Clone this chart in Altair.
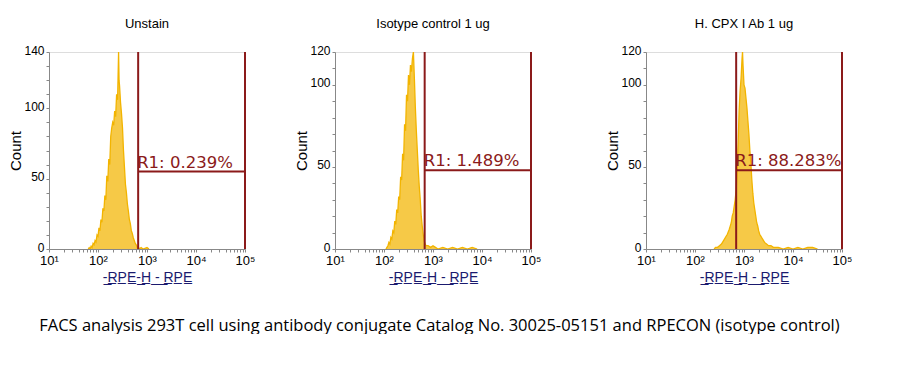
import altair as alt
import pandas as pd

# ---------------- data ----------------
panel_titles = ["Unstain", "Isotype control 1 ug", "H. CPX I Ab 1 ug"]

# histogram 1 : log10(RPE-H) positions and counts
exp1 = [1.80, 1.82, 1.84, 1.86, 1.88, 1.90, 1.92, 1.94, 1.96, 1.98, 2.00, 2.02, 2.04, 2.06,
        2.08, 2.10, 2.12, 2.14, 2.16, 2.18, 2.20, 2.22, 2.24, 2.26, 2.28, 2.30, 2.32, 2.34,
        2.36, 2.38, 2.40, 2.42, 2.43, 2.44, 2.46, 2.48, 2.50, 2.52, 2.54, 2.56, 2.58, 2.60,
        2.62, 2.64, 2.66, 2.68, 2.70, 2.72, 2.74, 2.76, 2.78, 2.80, 2.82, 2.84, 2.88, 2.92,
        3.00, 3.04]
cnt1 = [0, 1, 0, 2, 1, 4, 3, 6, 5, 10, 9, 15, 13, 21,
        19, 29, 27, 38, 35, 52, 48, 64, 60, 80, 86, 90, 88, 98,
        94, 110, 106, 140, 120, 116, 104, 96, 86, 70, 58, 46, 40, 32,
        27, 21, 18, 13, 11, 8, 6, 4, 3, 1, 2, 0, 1, 0,
        1, 0]

exp2 = [2.04, 2.06, 2.08, 2.10, 2.12, 2.14, 2.16, 2.18, 2.20, 2.22, 2.24, 2.26, 2.28, 2.30,
        2.32, 2.34, 2.36, 2.38, 2.40, 2.42, 2.44, 2.46, 2.48, 2.50, 2.52, 2.54, 2.56, 2.58,
        2.60, 2.62, 2.64, 2.66, 2.68, 2.70, 2.72, 2.74, 2.76, 2.78, 2.80, 2.82, 2.84, 2.86,
        2.90, 2.95, 3.00, 3.05, 3.10, 3.20, 3.30, 3.40, 3.50, 3.60, 3.70, 3.80, 3.90]
cnt2 = [0, 1, 2, 4, 3, 7, 6, 11, 10, 17, 15, 24, 22, 32,
        30, 44, 42, 58, 54, 76, 72, 94, 90, 106, 100, 112, 108, 116,
        120, 104, 86, 72, 60, 48, 38, 30, 20, 14, 9, 5, 3, 2,
        2, 1, 2, 1, 0, 1, 0, 1, 0, 1, 0, 1, 0]

exp3 = [2.39, 2.42, 2.46, 2.50, 2.54, 2.58, 2.62, 2.66, 2.70, 2.72, 2.74, 2.76, 2.78, 2.80,
        2.82, 2.84, 2.86, 2.88, 2.90, 2.92, 2.94, 2.96, 2.97, 2.98, 3.00, 3.02, 3.04, 3.06,
        3.08, 3.10, 3.12, 3.14, 3.16, 3.18, 3.20, 3.22, 3.24, 3.26, 3.28, 3.30, 3.32, 3.34,
        3.36, 3.38, 3.42, 3.46, 3.50, 3.55, 3.60, 3.70, 3.80, 3.90, 4.00, 4.10, 4.20, 4.30,
        4.40, 4.50]
cnt3 = [0, 1, 1, 2, 3, 5, 7, 9, 12, 14, 16, 20, 22, 26,
        30, 36, 48, 64, 84, 96, 104, 116, 120, 112, 100, 98, 92, 86,
        78, 70, 60, 52, 42, 34, 28, 24, 20, 16, 14, 11, 9, 8,
        7, 6, 4, 3, 2, 2, 1, 1, 0, 1, 0, 1, 0, 1,
        1, 0]

y_max = [140, 120, 120]
gate_left = [660, 676, 692]
gate_right = [100000, 100000, 100000]
gate_y = [55, 48, 48]
gate_labels = ["R1: 0.239%", "R1: 1.489%", "R1: 88.283%"]

x_major = [10, 100, 1000, 10000, 100000]
x_minor = [20, 30, 40, 50, 60, 70, 80, 90,
           200, 300, 400, 500, 600, 700, 800, 900,
           2000, 3000, 4000, 5000, 6000, 7000, 8000, 9000,
           20000, 30000, 40000, 50000, 60000, 70000, 80000, 90000]
y_ticks_140 = [0, 10, 20, 30, 40, 50, 60, 70, 80, 90, 100, 110, 120, 130, 140]
y_ticks_120 = [0, 10, 20, 30, 40, 50, 60, 70, 80, 90, 100, 110, 120]

caption = ("FACS analysis 293T cell using antibody conjugate Catalog No. 30025-05151 "
           "and RPECON (isotype control)")
x_title = "".join(c + "\u0332" for c in "-RPE-H - RPE")

GATE = "#8B1A1A"
HIST = "#F2B400"
AX = "#A0A0A0"

majors_js = "[10,100,1000,10000,100000]"
x_label_expr = (f"indexof({majors_js}, datum.value) >= 0 ? "
                f"'10' + ['\u00b9','\u00b2','\u00b3','\u2074','\u2075'][indexof({majors_js}, datum.value)] : ''")


def panel(i, exps, cnts, yticks):
    ymax = y_max[i]
    hist = pd.DataFrame({"v": [10 ** e for e in exps], "count": cnts})
    xscale = alt.Scale(type="log", domain=[10, 100000])
    yscale = alt.Scale(domain=[0, ymax], nice=False)
    xaxis = alt.Axis(values=x_major + x_minor, labelExpr=x_label_expr, labelFlush=False,
                     labelOverlap=False, grid=False, title=x_title, titleColor="#1a1a6e",
                     titleFontSize=14, titleFontWeight="normal", titlePadding=3,
                     tickSize=3, labelFontSize=13, labelPadding=2)
    yaxis = alt.Axis(values=yticks, grid=False, title="Count", titleFontSize=15,
                     titleFontWeight="normal", titlePadding=0, labelOverlap=False,
                     labelFlush=False, labelBaseline="alphabetic", labelOffset=2,
                     labelExpr=f"(datum.value % 50 == 0 || datum.value == {ymax}) ? '' + datum.value : ''",
                     tickSize=3, labelFontSize=12, labelPadding=2)

    def X(field):
        return alt.X(field, scale=xscale, axis=xaxis)

    def Y(field):
        return alt.Y(field, scale=yscale, axis=yaxis)

    base = alt.Chart(hist)
    area = base.mark_area(color=HIST, opacity=0.72, clip=True).encode(
        x=X("v:Q"), y=Y("count:Q"))
    line = base.mark_line(color=HIST, strokeWidth=1.3, clip=True).encode(
        x=X("v:Q"), y=Y("count:Q"))

    vdf = pd.DataFrame({"v": [gate_left[i], gate_right[i]], "count": [0, 0], "y1": [ymax, ymax]})
    vlines = alt.Chart(vdf).mark_rule(color=GATE, strokeWidth=2).encode(
        x=X("v:Q"), y=Y("count:Q"), y2="y1:Q")
    hdf = pd.DataFrame({"v": [gate_left[i]], "x1": [gate_right[i]], "count": [gate_y[i]],
                        "t": [gate_labels[i]]})
    hline = alt.Chart(hdf).mark_rule(color=GATE, strokeWidth=2).encode(
        x=X("v:Q"), x2="x1:Q", y=Y("count:Q"))
    label = alt.Chart(hdf).mark_text(color=GATE, align="left", baseline="bottom", dx=-1, dy=-1,
                                     font="DejaVu Sans", fontSize=16.5).encode(
        x=X("v:Q"), y=Y("count:Q"), text="t:N")

    return alt.layer(area, line, vlines, hline, label).properties(
        width=196, height=197,
        title=alt.TitleParams(panel_titles[i], fontSize=13, fontWeight="normal",
                              font="Liberation Sans", offset=13, color="black"))


p1 = panel(0, exp1, cnt1, y_ticks_140)
p2 = panel(1, exp2, cnt2, y_ticks_120)
p3 = panel(2, exp3, cnt3, y_ticks_120)

chart = alt.hconcat(alt.hconcat(p1, p2, spacing=38), p3, spacing=63).properties(
    title=alt.TitleParams(caption, orient="bottom", anchor="middle", fontSize=16.5,
                          fontWeight="normal", font="Open Sans", offset=33, dx=9,
                          color="black"),
    padding={"top": 9, "left": 0, "right": 0, "bottom": 0},
).configure_view(stroke=AX).configure_axis(
    domainColor=AX, tickColor=AX, labelColor="black", titleColor="black",
    labelFont="Liberation Sans", titleFont="Liberation Sans", labelOverlap=False,
).configure(background="white")

chart.save("out.html", embed_options={"renderer": "svg", "actions": False})
